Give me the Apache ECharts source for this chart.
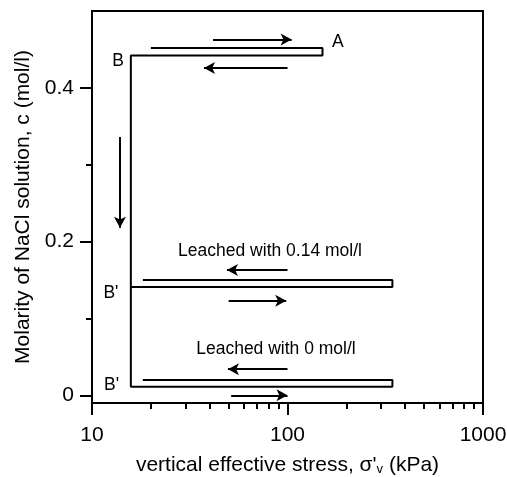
<!DOCTYPE html>
<html>
<head>
<meta charset="utf-8">
<script src="https://cdn.jsdelivr.net/npm/echarts@6/dist/echarts.min.js"></script>
<style>
html, body { margin: 0; padding: 0; background: #fff; }
#chart { width: 507px; height: 477px; }
</style>
</head>
<body>
<div id="chart"></div>
<script>
// path A -> B -> B' (leached with 0 mol/l)
var stressMain = [20, 151, 151, 15.8, 15.8, 344, 344, 18.2];
var molMain = [0.452, 0.452, 0.442, 0.442, 0.011, 0.011, 0.02, 0.02];
// loop at B' (leached with 0.14 mol/l)
var stressMid = [15.8, 344, 344, 18.2];
var molMid = [0.141, 0.141, 0.15, 0.15];

// arrows: start / end
var arrowStart = [[41.6, 0.463], [100, 0.426], [13.9, 0.336], [100, 0.163], [50, 0.123], [100, 0.034], [51.5, 0.0]];
var arrowEnd = [[105, 0.463], [37.4, 0.426], [13.9, 0.218], [49, 0.163], [98.5, 0.123], [49.6, 0.034], [100, 0.0]];

var noteText = ['A', 'B', "B'", "B'", 'Leached with 0.14 mol/l', 'Leached with 0 mol/l'];
var noteX = [181, 13.6, 12.5, 12.6, 81.4, 87.3];
var noteY = [0.46, 0.435, 0.133, 0.013, 0.187, 0.060];

var xMajor = [10, 100, 1000];
var xMinor = [20, 30, 40, 50, 60, 70, 80, 90, 200, 300, 400, 500, 600, 700, 800, 900];
var yMajor = [0, 0.2, 0.4];
var yMinor = [0.1, 0.3];

function zip(xs, ys) {
    return xs.map(function (x, i) { return [x, ys[i]]; });
}

var font = 'Liberation Sans, Arial, sans-serif';

option = {
    animation: false,
    grid: {
        left: 92, right: 24, top: 11, bottom: 74,
        outerBoundsMode: 'none',
        containLabel: false,
        show: true,
        borderColor: '#000',
        borderWidth: 2
    },
    xAxis: [{
        type: 'log',
        logBase: 10,
        min: 10,
        max: 1000,
        position: 'bottom',
        name: "vertical effective stress, {s|σ'}{sub|v} (kPa)",
        nameLocation: 'middle',
        nameGap: 51,
        nameTextStyle: {
            color: '#000', fontSize: 21, fontFamily: font,
            rich: {
                s: { fontSize: 21, fontFamily: font, color: '#000' },
                sub: { fontSize: 13, fontFamily: font, color: '#000', verticalAlign: 'bottom', padding: [9, 0, 0, 0] }
            }
        },
        axisLine: { onZero: false, lineStyle: { color: '#000', width: 2 } },
        axisTick: { inside: false, length: 12, lineStyle: { color: '#000', width: 2 }, customValues: xMajor },
        axisLabel: {
            color: '#000', fontSize: 21, fontFamily: font, margin: 22, customValues: xMajor,
            formatter: function (v) { return String(Math.round(v)); }
        },
        splitLine: { show: false }
    }, {
        type: 'log',
        logBase: 10,
        min: 10,
        max: 1000,
        position: 'bottom',
        axisLine: { show: false, onZero: false },
        axisTick: { length: 6, lineStyle: { color: '#000', width: 2 }, customValues: xMinor },
        axisLabel: { show: false },
        splitLine: { show: false }
    }],
    yAxis: [{
        type: 'value',
        min: -0.01,
        max: 0.5,
        position: 'left',
        name: 'Molarity of NaCl solution, c (mol/l)',
        nameLocation: 'middle',
        nameGap: 54,
        nameTextStyle: { color: '#000', fontSize: 21, fontFamily: font },
        axisLine: { onZero: false, lineStyle: { color: '#000', width: 2 } },
        axisTick: { length: 12, lineStyle: { color: '#000', width: 2 }, customValues: yMajor },
        axisLabel: { color: '#000', fontSize: 21, fontFamily: font, margin: 18, customValues: yMajor },
        splitLine: { show: false }
    }, {
        type: 'value',
        min: -0.01,
        max: 0.5,
        position: 'left',
        axisLine: { show: false, onZero: false },
        axisTick: { length: 6, lineStyle: { color: '#000', width: 2 }, customValues: yMinor },
        axisLabel: { show: false },
        splitLine: { show: false }
    }],
    series: [{
        type: 'line',
        data: zip(stressMain, molMain),
        symbol: 'none',
        lineStyle: { color: '#000', width: 2 }
    }, {
        type: 'line',
        data: zip(stressMid, molMid),
        symbol: 'none',
        lineStyle: { color: '#000', width: 2 },
        markLine: {
            silent: true,
            symbol: ['none', 'arrow'],
            symbolSize: [9, 11],
            label: { show: false },
            lineStyle: { color: '#000', width: 2, type: 'solid' },
            data: arrowStart.map(function (s, i) {
                return [{ coord: s }, { coord: arrowEnd[i] }];
            })
        }
    }, {
        type: 'scatter',
        data: zip(noteX, noteY),
        symbolSize: 0,
        itemStyle: { opacity: 1 },
        label: {
            show: true,
            position: 'inside',
            color: '#000',
            fontSize: 17.5,
            fontFamily: font,
            formatter: function (p) { return noteText[p.dataIndex]; }
        }
    }]
};
var myecharts = echarts.init(document.getElementById('chart'));
myecharts.setOption(option);
</script>
</body>
</html>
